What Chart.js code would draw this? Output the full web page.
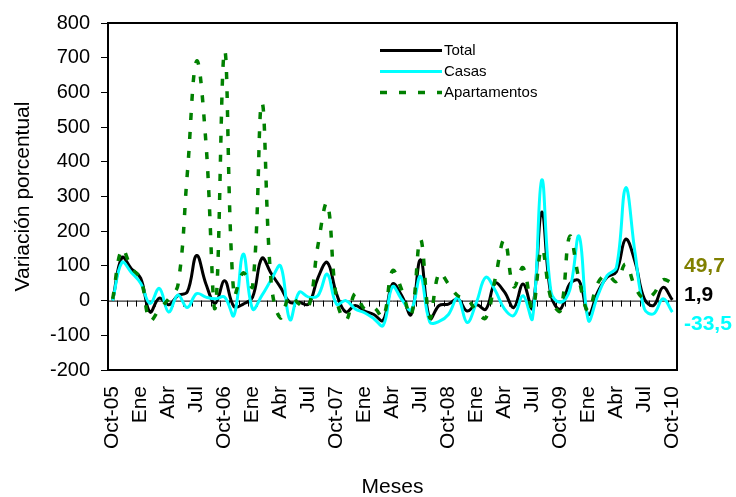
<!DOCTYPE html>
<html>
<head>
<meta charset="utf-8">
<script src="https://cdn.jsdelivr.net/npm/chart.js@4/dist/chart.umd.min.js"></script>
<style>
  html, body { margin: 0; padding: 0; background: #fff; }
  #wrap { width: 736px; height: 497px; }
</style>
</head>
<body>
<div id="wrap"><canvas id="grafico" width="736" height="497"></canvas></div>
<script>
// meses Oct-05 .. Oct-10
const meses = [
  "Oct-05","Nov-05","Dic-05","Ene-06","Feb-06","Mar-06","Abr-06","May-06","Jun-06","Jul-06","Ago-06","Sep-06",
  "Oct-06","Nov-06","Dic-06","Ene-07","Feb-07","Mar-07","Abr-07","May-07","Jun-07","Jul-07","Ago-07","Sep-07",
  "Oct-07","Nov-07","Dic-07","Ene-08","Feb-08","Mar-08","Abr-08","May-08","Jun-08","Jul-08","Ago-08","Sep-08",
  "Oct-08","Nov-08","Dic-08","Ene-09","Feb-09","Mar-09","Abr-09","May-09","Jun-09","Jul-09","Ago-09","Sep-09",
  "Oct-09","Nov-09","Dic-09","Ene-10","Feb-10","Mar-10","Abr-10","May-10","Jun-10","Jul-10","Ago-10","Sep-10",
  "Oct-10"
];

// etiquetas del eje x (cada 3 meses)
const etiquetas = [
  "Oct-05","Ene","Abr","Jul","Oct-06","Ene","Abr","Jul","Oct-07","Ene","Abr","Jul",
  "Oct-08","Ene","Abr","Jul","Oct-09","Ene","Abr","Jul","Oct-10"
];

const total = [
  0, 124, 92, 65, -33, 7, -12, 15, 25, 130,
  48, -8, 57, -17, -10, 10, 122, 78, 38, -5,
  -5, -10, 65, 110, 20, -33, -14, -30, -40, -57,
  48, 14, -40, 118, -52, -14, -10, 5, -30, -12,
  -25, 50, 25, -20, 48, -22, 255, 14, -24, 48,
  57, -40, 24, 67, 83, 177, 112, 5, -14, 38,
  1.9
];

const casas = [
  0, 110, 81, 50, -8, 35, -33, 16, -20, 20,
  10, 5, 10, -43, 134, -24, 15, 60, 100, -55,
  24, 10, 14, 76, -10, 0, -24, -35, -52, -72,
  40, 3, -27, 70, -62, -60, -40, 8, -63, -5,
  67, 30, -24, -43, 14, -52, 348, 24, -5, 30,
  186, -57, 14, 72, 95, 325, 138, -24, -38, 5,
  -33.5
];

const apartamentos = [
  5, 148, 95, 62, -57, -25, 5, 45, 365, 690,
  455, -20, 720, 15, 80, 40, 570, 50, -50, 14,
  -10, -19, 158, 280, 5, -57, 20, -24, -20, -48,
  86, 30, -43, 177, -50, 80, 48, 14, 5, -30,
  -50, 62, 175, 40, 95, -24, 150, 5, -29, 185,
  60, -30, 50, 75, 55, 105, 40, 5, 20, 60,
  49.7
];

const yTicks = [-200, -100, 0, 100, 200, 300, 400, 500, 600, 700, 800];

// ultimo valor de cada serie (texto a la derecha)
const finales = [
  { texto: "49,7", valor: 49.7, color: "#808000", dy: -17 },
  { texto: "1,9", valor: 1.9, color: "#000000", dy: -5 },
  { texto: "-33,5", valor: -33.5, color: "#00FFFF", dy: 12 }
];

const FUENTE = "Arial, 'Liberation Sans', sans-serif";

// eje en cero con marcas + marco del area
const ejeCero = {
  id: "ejeCero",
  beforeDatasetsDraw(chart) {
    const { ctx, chartArea: a, scales } = chart;
    const y0 = scales.y.getPixelForValue(0);
    const n = meses.length;
    const paso = (a.right - a.left) / n;
    ctx.save();
    ctx.strokeStyle = "#000";
    ctx.lineWidth = 1;
    ctx.beginPath();
    ctx.moveTo(a.left, y0 + 0.5);
    ctx.lineTo(a.right, y0 + 0.5);
    for (let i = 1; i < n; i++) {
      const x = Math.round(a.left + i * paso) + 0.5;
      ctx.moveTo(x, y0);
      ctx.lineTo(x, y0 + 6);
    }
    ctx.stroke();
    ctx.restore();
  },
  afterDraw(chart) {
    const { ctx, chartArea: a } = chart;
    ctx.save();
    ctx.strokeStyle = "#000";
    ctx.lineWidth = 2;
    ctx.strokeRect(a.left, a.top, a.right - a.left, a.bottom - a.top);
    ctx.restore();
  }
};

// leyenda dentro del grafico
const leyenda = {
  id: "leyenda",
  afterDraw(chart) {
    const { ctx } = chart;
    const x1 = 380, x2 = 442;
    const ys = [50.5, 71.5, 92.5];
    ctx.save();
    chart.data.datasets.forEach((ds, i) => {
      ctx.beginPath();
      ctx.strokeStyle = ds.borderColor;
      ctx.lineWidth = ds.borderWidth;
      ctx.setLineDash(ds.borderDash || []);
      ctx.moveTo(x1, ys[i]);
      ctx.lineTo(x2, ys[i]);
      ctx.stroke();
      ctx.setLineDash([]);
      ctx.fillStyle = "#000";
      ctx.font = "15px " + FUENTE;
      ctx.textBaseline = "middle";
      ctx.textAlign = "left";
      ctx.fillText(ds.label, x2 + 2, ys[i]);
    });
    ctx.restore();
  }
};

const valoresFinales = {
  id: "valoresFinales",
  afterDraw(chart) {
    const { ctx, chartArea: a, scales } = chart;
    ctx.save();
    ctx.font = "bold 21px " + FUENTE;
    ctx.textBaseline = "middle";
    ctx.textAlign = "left";
    finales.forEach(f => {
      ctx.fillStyle = f.color;
      ctx.fillText(f.texto, a.right + 7, scales.y.getPixelForValue(f.valor) + f.dy);
    });
    ctx.restore();
  }
};

new Chart(document.getElementById("grafico"), {
  type: "line",
  data: {
    labels: meses,
    datasets: [
      { label: "Total", data: total, borderColor: "#000000", borderWidth: 3, order: 2 },
      { label: "Casas", data: casas, borderColor: "#00FFFF", borderWidth: 3, order: 1 },
      { label: "Apartamentos", data: apartamentos, borderColor: "#008000", borderWidth: 3.5,
        borderDash: [7, 12], order: 0 }
    ]
  },
  options: {
    responsive: false,
    animation: false,
    events: [],
    layout: { padding: { top: 21, right: 59, left: 0, bottom: 0 } },
    elements: {
      point: { radius: 0 },
      line: { tension: 0.4, fill: false, borderCapStyle: "butt" }
    },
    plugins: { legend: { display: false }, tooltip: { enabled: false } },
    scales: {
      x: {
        offset: true,
        afterFit: s => { s.height = 127; },
        grid: { display: false },
        border: { display: false },
        ticks: {
          autoSkip: false,
          minRotation: 90,
          maxRotation: 90,
          padding: 8,
          color: "#000",
          font: { family: FUENTE, size: 21 },
          callback: (v, i) => (i % 3 === 0 ? etiquetas[i / 3] : "")
        },
        title: {
          display: true,
          text: "Meses",
          color: "#000",
          font: { family: FUENTE, size: 21 },
          padding: { top: 0, bottom: -3 }
        }
      },
      y: {
        min: -200,
        max: 800,
        afterFit: s => { s.width = 108; },
        afterBuildTicks: s => { s.ticks = yTicks.map(v => ({ value: v })); },
        grid: { drawOnChartArea: false, tickLength: 7, color: "#000", lineWidth: 1 },
        border: { display: true, color: "#000", width: 2 },
        ticks: {
          padding: 11,
          color: "#000",
          font: { family: FUENTE, size: 20 }
        },
        title: {
          display: true,
          text: "Variación porcentual",
          color: "#000",
          font: { family: FUENTE, size: 21 },
          padding: { top: 11, bottom: 0 }
        }
      }
    }
  },
  plugins: [ejeCero, leyenda, valoresFinales]
});
</script>
</body>
</html>
